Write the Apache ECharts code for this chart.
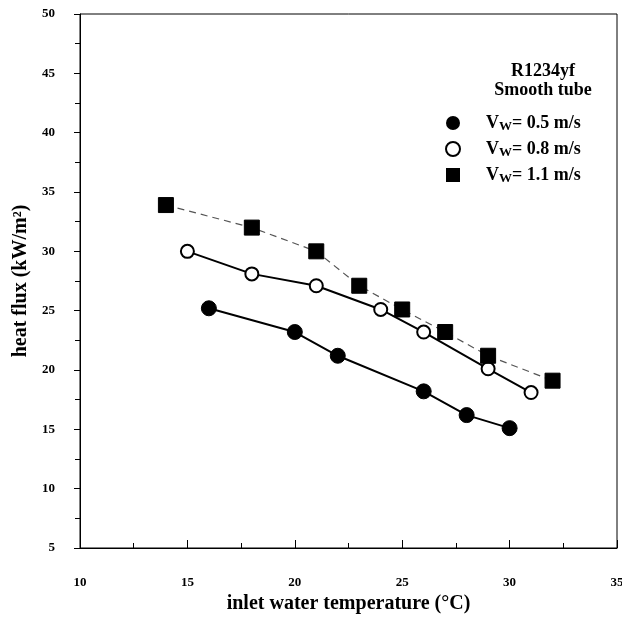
<!DOCTYPE html>
<html>
<head>
<meta charset="utf-8">
<script src="https://cdn.jsdelivr.net/npm/echarts@6/dist/echarts.min.js"></script>
<style>html,body{margin:0;padding:0;background:#fff}#c{width:622px;height:618px}</style>
</head>
<body>
<div id="c"></div>
<script>
const xLow = [16, 20, 22, 26, 28, 30];
const yLow = [25.2, 23.2, 21.2, 18.2, 16.2, 15.1];
const xMid = [15, 18, 21, 24, 26, 29, 31];
const yMid = [30, 28.1, 27.1, 25.1, 23.2, 20.1, 18.1];
const xHigh = [14, 18, 21, 23, 25, 27, 29, 32];
const yHigh = [33.9, 32, 30, 27.1, 25.1, 23.2, 21.2, 19.1];
const seriesNames = ['0.5', '0.8', '1.1'];
const titleLines = ['R1234yf', 'Smooth tube'];

const zip = (a, b) => a.map((v, i) => [v, b[i]]);
const font = 'Liberation Serif';

const chart = echarts.init(document.getElementById('c'));
chart.setOption({
  animation: false,
  backgroundColor: '#fff',
  grid: { left: 80, right: 5, top: 14, bottom: 70, show: true, borderColor: '#000', borderWidth: 1, outerBoundsMode: 'none', containLabel: false },
  title: {
    text: titleLines.join('\n'),
    left: 538, top: 57, textAlign: 'center',
    textStyle: { fontFamily: font, fontWeight: 'bold', fontSize: 18, color: '#000', lineHeight: 19 }
  },
  legend: {
    orient: 'vertical', left: 440, top: 108, itemGap: 6, itemWidth: 14, itemHeight: 14,
    data: [
      { name: seriesNames[0], icon: 'circle' },
      { name: seriesNames[1], icon: 'circle' },
      { name: seriesNames[2], icon: 'rect' }
    ],
    formatter: n => 'V{sub|W}= ' + n + ' m/s',
    textStyle: {
      fontFamily: font, fontWeight: 'bold', fontSize: 18, color: '#000', padding: [0, 0, 0, 21], lineHeight: 20,
      rich: { sub: { fontFamily: font, fontWeight: 'bold', fontSize: 13, color: '#000', verticalAlign: 'bottom', lineHeight: 20, padding: [6, 0, 0, 0] } }
    }
  },
  xAxis: {
    type: 'value', min: 10, max: 35, interval: 5,
    name: 'inlet water temperature (°C)', nameLocation: 'middle', nameGap: 44,
    nameTextStyle: { fontFamily: font, fontWeight: 'bold', fontSize: 20, color: '#000' },
    axisLine: { lineStyle: { color: '#000', width: 1 } },
    axisTick: { inside: true, length: 8, lineStyle: { color: '#000' } },
    minorTick: { show: true, splitNumber: 2, length: 5, lineStyle: { color: '#000' } },
    axisLabel: { margin: 28, fontFamily: font, fontWeight: 'bold', fontSize: 13, color: '#000' },
    splitLine: { show: false }
  },
  yAxis: {
    type: 'value', min: 5, max: 50, interval: 5,
    name: 'heat flux (kW/m²)', nameLocation: 'middle', nameGap: 49,
    nameTextStyle: { fontFamily: font, fontWeight: 'bold', fontSize: 20, color: '#000' },
    axisLine: { lineStyle: { color: '#000', width: 1 } },
    axisTick: { inside: false, length: 6, lineStyle: { color: '#000' } },
    minorTick: { show: true, splitNumber: 2, length: 5, lineStyle: { color: '#000' } },
    axisLabel: { margin: 25, fontFamily: font, fontWeight: 'bold', fontSize: 13, color: '#000' },
    splitLine: { show: false }
  },
  series: [
    {
      name: seriesNames[0], type: 'line', data: zip(xLow, yLow),
      symbol: 'circle', symbolSize: 15,
      itemStyle: { color: '#000', borderColor: '#000' },
      lineStyle: { color: '#000', width: 2 }
    },
    {
      name: seriesNames[1], type: 'line', data: zip(xMid, yMid),
      symbol: 'circle', symbolSize: 13,
      itemStyle: { color: '#fff', borderColor: '#000', borderWidth: 2 },
      lineStyle: { color: '#000', width: 2 }
    },
    {
      name: seriesNames[2], type: 'line', data: zip(xHigh, yHigh),
      symbol: 'rect', symbolSize: 15,
      itemStyle: { color: '#000', borderColor: '#000' },
      lineStyle: { color: '#555', width: 1.2, type: [7, 5] }
    }
  ]
});
</script>
</body>
</html>
